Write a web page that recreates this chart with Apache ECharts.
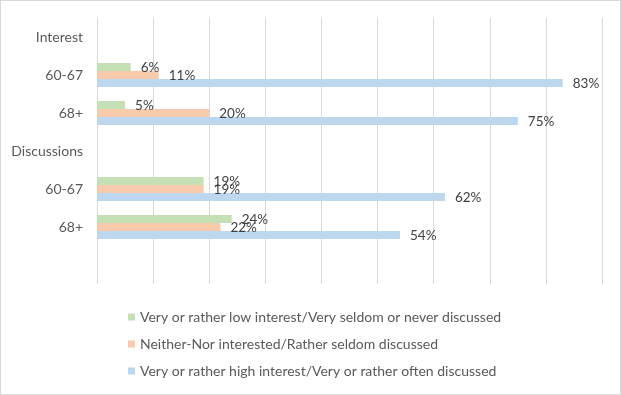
<!DOCTYPE html>
<html>
<head>
<meta charset="utf-8">
<script src="https://cdn.jsdelivr.net/npm/echarts@6/dist/echarts.min.js"></script>
<style>
html,body{margin:0;padding:0;background:#fff;}
#c{width:621px;height:395px;box-sizing:border-box;border:1px solid #d9d9d9;}
</style>
</head>
<body>
<div id="c"></div>
<script>
const categories = ['Interest', '60-67', '68+', 'Discussions', '60-67', '68+', ''];
const seriesNames = [
  'Very or rather low interest/Very seldom or never discussed',
  'Neither-Nor interested/Rather seldom discussed',
  'Very or rather high interest/Very or rather often discussed'
];
const lowValues = [null, 6, 5, null, 19, 24, null];
const neitherValues = [null, 11, 20, null, 19, 22, null];
const highValues = [null, 83, 75, null, 62, 54, null];
const colors = ['#c5e0b4', '#f8cbad', '#bdd7ee'];

const FONT = 'Lato';
const chart = echarts.init(document.getElementById('c'));
const mk = (name, data, color) => ({
  name, type: 'bar', data, barWidth: 8, barGap: '0%',
  itemStyle: { color },
  label: { show: true, position: 'right', distance: 10, color: '#404040', fontSize: 13.5, fontFamily: FONT,
    offset: [0, 1],
    formatter: p => p.value == null ? '' : p.value + '%' }
});
chart.setOption({
  animation: false,
  textStyle: { fontFamily: FONT },
  grid: { left: 96, right: 18, top: 17, bottom: 110, containLabel: false },
  xAxis: {
    type: 'value', min: 0, max: 90, interval: 10,
    axisLabel: { show: false }, axisLine: { show: false }, axisTick: { show: false },
    splitLine: { lineStyle: { color: '#d9d9d9', width: 1 } }
  },
  yAxis: {
    type: 'category', data: categories, inverse: true,
    axisLine: { show: false }, axisTick: { show: false },
    axisLabel: { color: '#595959', fontSize: 14, fontFamily: FONT, margin: 14 }
  },
  legend: {
    orient: 'vertical', left: 122, top: 304, itemGap: 13,
    itemWidth: 7, itemHeight: 7, icon: 'rect',
    textStyle: { color: '#595959', fontSize: 14, fontFamily: FONT },
    data: seriesNames
  },
  series: [
    mk(seriesNames[0], lowValues, colors[0]),
    mk(seriesNames[1], neitherValues, colors[1]),
    mk(seriesNames[2], highValues, colors[2])
  ]
});
</script>
</body>
</html>
